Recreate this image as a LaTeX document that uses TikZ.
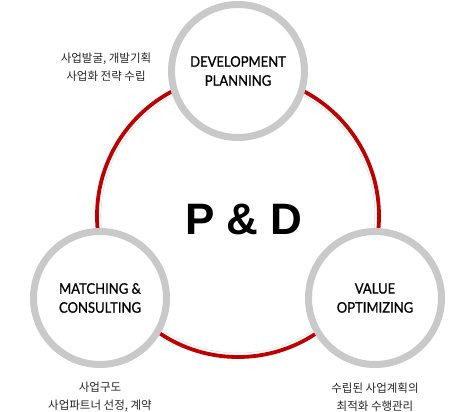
\documentclass[tikz,border=0pt]{standalone}
\usepackage{fontspec}
\setmainfont{Lato}
\newfontfamily\labfont[FakeStretch=0.9,FakeBold=0.8]{Lato}
\newfontfamily\kofont{Noto Sans CJK KR}
\newfontfamily\pdfont{Liberation Sans}
\begin{document}
\begin{tikzpicture}[x=1pt,y=-1pt,
  ring/.style={circle,draw=black!21,line width=7pt,fill=white,minimum size=133pt,inner sep=0pt,align=center,text=black,font=\labfont\fontsize{14.5}{19}\selectfont},
  note/.style={align=center,font=\kofont\fontsize{11.5}{18.5}\selectfont,text=black!85}]
\useasboundingbox (0,0) rectangle (474,412);
\fill[white] (0,0) rectangle (474,412);
\coordinate (c) at (238,216);
\draw[red!75!black,line width=3.8pt] (c) circle[radius=141];
\draw[black!12,line width=0.6pt] (c) circle[radius=137];
\node[ring] (dev) at (238,71) {DEVELOPMENT\\PLANNING};
\node[ring] (mat) at (100,298) {MATCHING \&\\CONSULTING};
\node[ring] (val) at (375,298) {VALUE\\OPTIMIZING};
\node[font=\pdfont\bfseries\fontsize{44}{44}\selectfont] (pd) at (244,219) {P \& D};
\node[note] (n1) at (106,67) {사업발굴, 개발기획\\사업화 전략 수립};
\node[note] (n2) at (100,397) {사업구도\\사업파트너 선정, 계약};
\node[note] (n3) at (375,397) {수립된 사업계획의\\최적화 수행관리};
\end{tikzpicture}
\end{document}
